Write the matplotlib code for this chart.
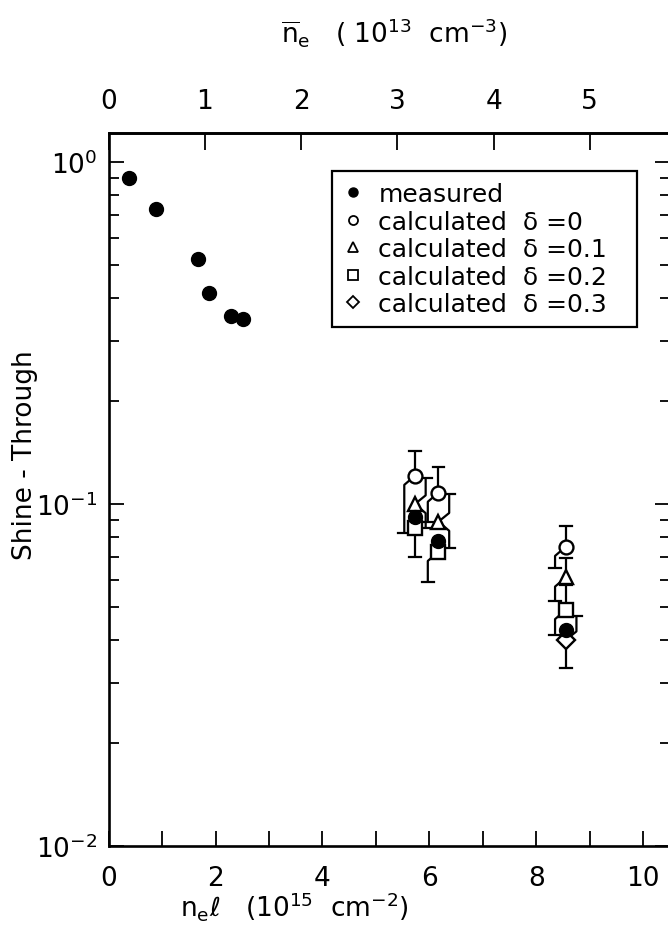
import matplotlib
matplotlib.use("Agg")
import matplotlib.pyplot as plt
from matplotlib.lines import Line2D
from matplotlib.ticker import FixedLocator, NullFormatter, LogLocator

plt.rcParams['font.family'] = ['DejaVu Sans']
plt.rcParams['mathtext.fontset'] = 'dejavusans'

# measured shine-through versus line density n_e*l (10^15 cm^-2)
meas_x = [0.39, 0.88, 1.67, 1.88, 2.28, 2.52, 5.73, 6.17, 8.55]
meas_y = [0.90, 0.73, 0.52, 0.415, 0.354, 0.348, 0.0914, 0.0778, 0.0428]

# calculated shine-through for several delta values, with error limits
calc_delta = ["0", "0.1", "0.2", "0.3"]

calc0_x = [5.73, 6.17, 8.55]
calc0_y = [0.121, 0.108, 0.075]
calc0_hi = [0.143, 0.128, 0.0865]
calc0_lo = [0.082, 0.0888, 0.065]

calc1_x = [5.73, 6.17, 8.55]
calc1_y = [0.100, 0.0888, 0.061]
calc1_hi = [0.119, 0.107, 0.0697]
calc1_lo = [0.085, 0.0745, 0.052]

calc2_x = [5.73, 6.17, 8.55]
calc2_y = [0.085, 0.0725, 0.049]
calc2_hi = [None, None, 0.058]
calc2_lo = [0.070, 0.059, 0.0414]

calc3_x = [8.55]
calc3_y = [0.040]
calc3_hi = [0.047]
calc3_lo = [0.0332]

# conversion from n_e*l to mean density (10^13 cm^-3)
path_len = 1.8

fig = plt.figure(figsize=(6.68, 9.29), dpi=100)
ax = fig.add_axes([0.1626, 0.0883, 0.8404, 0.7675])
ax.set_yscale('log')
ax.set_xlim(0, 10.5)
ax.set_ylim(0.01, 1.216)

for s in ax.spines.values():
    s.set_linewidth(1.9)

ax.xaxis.set_major_locator(FixedLocator([0, 2, 4, 6, 8, 10]))
ax.xaxis.set_minor_locator(FixedLocator([1, 3, 5, 7, 9]))
ax.yaxis.set_major_locator(LogLocator(base=10))
ax.yaxis.set_minor_locator(LogLocator(base=10, subs=range(2, 10)))
ax.yaxis.set_minor_formatter(NullFormatter())
ax.tick_params(which='both', direction='in', top=False, right=True, width=1.3)
ax.tick_params(axis='x', which='both', length=11, labelsize=19, pad=14)
ax.tick_params(axis='y', which='major', length=11, labelsize=19, pad=8)
ax.tick_params(axis='y', which='minor', length=7)

sec = ax.secondary_xaxis('top', functions=(lambda x: x / path_len, lambda x: x * path_len))
sec.set_xticks([0, 1, 2, 3, 4, 5])
sec.tick_params(direction='in', length=12, width=1.3, labelsize=19, pad=14)
sec.spines['top'].set_linewidth(1.9)

ERR_LW = 1.6
DX = 0.2
CAP = 0.11


def bar(x, y, lim, side):
    """Error bar from (x, y) to lim; bent sideways when side != 0."""
    if lim is None:
        return
    if side == 0:
        xs, ys = [x, x], [y, lim]
        xe = x
    else:
        xe = x + side * DX
        kink = y * (1.06 if lim > y else 0.94)
        xs, ys = [x, xe, xe], [y, kink, lim]
    ax.plot(xs, ys, color='k', lw=ERR_LW, zorder=2, solid_capstyle='butt')
    ax.plot([xe - CAP, xe + CAP], [lim, lim], color='k', lw=ERR_LW, zorder=2)


def series(xv, yv, hv, lv, hi_side, lo_side, marker, ms):
    for x, y, h, l, hs, ls in zip(xv, yv, hv, lv, hi_side, lo_side):
        bar(x, y, h, hs)
        bar(x, y, l, ls)
    ax.plot(xv, yv, ls='none', marker=marker, ms=ms, mfc='white', mec='k', mew=1.7, zorder=4)


series(calc0_x, calc0_y, calc0_hi, calc0_lo, [0, 0, 0], [-1, -1, -1], 'o', 10)
series(calc1_x, calc1_y, calc1_hi, calc1_lo, [1, 1, 0], [1, 1, -1], '^', 10.5)
series(calc2_x, calc2_y, calc2_hi, calc2_lo, [0, 0, 0], [0, -1, -1], 's', 9.5)
series(calc3_x, calc3_y, calc3_hi, calc3_lo, [1], [0], 'D', 9.5)

ax.plot(meas_x, meas_y, ls='none', marker='o', ms=10, mfc='k', mec='k', zorder=5)

handles = [Line2D([], [], ls='none', marker='o', ms=6.5, mfc='k', mec='k')]
for m, size in zip(['o', '^', 's', 'D'], [6.5, 7, 6.5, 6.5]):
    handles.append(Line2D([], [], ls='none', marker=m, ms=size, mfc='white', mec='k', mew=1.3))
labels = ['measured'] + ['calculated  \u03b4 =' + d for d in calc_delta]
leg = ax.legend(handles, labels, loc='upper left', bbox_to_anchor=(0.398, 0.729, 0.543, 0.218),
                mode='expand', fontsize=18, frameon=True, fancybox=False, edgecolor='k',
                framealpha=1, borderpad=0.45, labelspacing=0.14, handlelength=0.8,
                handletextpad=0.6, borderaxespad=0)
leg.get_frame().set_linewidth(1.6)

fig.text(25 / 668, 1 - 455 / 929, 'Shine - Through', rotation=90, ha='center', va='center', fontsize=19)
fig.text(0.44, 0.024, r'n$_\mathregular{e}$$\ell$   (10$^{15}$  cm$^{-2}$)', ha='center', va='center', fontsize=19)
fig.text(0.59, 0.965, r'$\overline{\mathregular{n}}_\mathregular{e}$   ( 10$^{13}$  cm$^{-3}$)', ha='center', va='center', fontsize=19)

fig.savefig('out.png', dpi=100)
